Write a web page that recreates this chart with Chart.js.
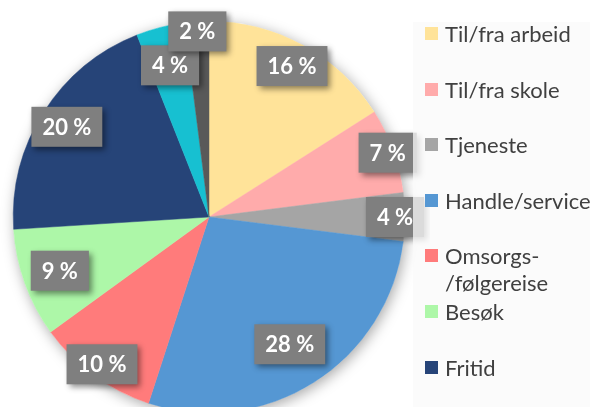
<!DOCTYPE html>
<html>
<head>
<meta charset="utf-8">
<script src="https://cdn.jsdelivr.net/npm/chart.js@4/dist/chart.umd.min.js"></script>
<style>
  html, body { margin: 0; padding: 0; }
  body { width: 590px; height: 407px; overflow: hidden; position: relative; background: #ffffff; font-family: Lato, "Open Sans", sans-serif; }
  #chartBox { position: absolute; left: 0; top: 0; width: 430px; height: 440px; }
  #legend { position: absolute; left: 413px; top: 22px; width: 177px; height: 400px; background: rgba(249,249,249,0.75); overflow: hidden; }
  .leg-item { position: absolute; left: 12px; width: 145px; font-family: Lato, sans-serif; font-size: 22px; line-height: 27px; color: #404040; padding-left: 20px; white-space: normal; }
  .leg-item .sw { position: absolute; left: 0; top: 7px; width: 13px; height: 13px; }
</style>
</head>
<body>
<div id="chartBox"><canvas id="pie"></canvas></div>
<div id="legend"></div>
<script>
// data
const categories = ['Til/fra arbeid', 'Til/fra skole', 'Tjeneste', 'Handle/service', 'Omsorgs-/følgereise', 'Besøk', 'Fritid', 'Annet', 'Ukjent'];
const shares = [16, 7, 4, 28, 10, 9, 20, 4, 2];
const sliceColors = ['#FFE399', '#FFABAB', '#A5A5A5', '#5597D3', '#FF7B7B', '#ADF7A8', '#264478', '#17C0D1', '#595959'];

// label placement (fraction of radius, along middle of slice)
const labelRadius = [0.88, 0.97, 0.95, 0.77, 0.93, 0.81, 0.86, 0.80, 0.95];

// soft shadow behind the whole pie
const pieShadow = {
  id: 'pieShadow',
  beforeDatasetsDraw(chart) {
    const arc = chart.getDatasetMeta(0).data[0];
    if (!arc) return;
    const { x, y, outerRadius } = arc.getProps(['x', 'y', 'outerRadius'], true);
    const ctx = chart.ctx;
    ctx.save();
    ctx.shadowColor = 'rgba(0,0,0,0.35)';
    ctx.shadowBlur = 14;
    ctx.shadowOffsetX = 2;
    ctx.shadowOffsetY = 3;
    ctx.fillStyle = '#ffffff';
    ctx.beginPath();
    ctx.arc(x, y, outerRadius, 0, Math.PI * 2);
    ctx.fill();
    ctx.restore();
  }
};

// grey boxed percentage labels
const boxLabels = {
  id: 'boxLabels',
  afterDatasetsDraw(chart) {
    const ctx = chart.ctx;
    const meta = chart.getDatasetMeta(0);
    ctx.save();
    ctx.font = 'bold 22px Lato, "Open Sans", sans-serif';
    ctx.textAlign = 'center';
    ctx.textBaseline = 'middle';
    meta.data.forEach((el, i) => {
      const p = el.getProps(['x', 'y', 'startAngle', 'endAngle', 'outerRadius'], true);
      const mid = (p.startAngle + p.endAngle) / 2;
      const r = p.outerRadius * labelRadius[i];
      const cx = p.x + Math.cos(mid) * r;
      const cy = p.y + Math.sin(mid) * r;
      const txt = shares[i] + ' %';
      const w = ctx.measureText(txt).width + 22;
      const h = 40;
      ctx.save();
      ctx.shadowColor = 'rgba(0,0,0,0.45)';
      ctx.shadowBlur = 6;
      ctx.shadowOffsetX = 3;
      ctx.shadowOffsetY = 3;
      ctx.fillStyle = '#7F7F7F';
      ctx.fillRect(cx - w / 2, cy - h / 2, w, h);
      ctx.restore();
      ctx.fillStyle = '#ffffff';
      ctx.fillText(txt, cx, cy + 1);
    });
    ctx.restore();
  }
};

new Chart(document.getElementById('pie'), {
  type: 'pie',
  data: {
    labels: categories,
    datasets: [{
      data: shares,
      backgroundColor: sliceColors,
      borderColor: sliceColors,
      borderWidth: 0.5,
      hoverOffset: 0
    }]
  },
  options: {
    responsive: true,
    maintainAspectRatio: false,
    animation: false,
    layout: { padding: { left: 13, top: 21, right: 25, bottom: 27 } },
    plugins: {
      legend: { display: false },
      tooltip: { enabled: false }
    }
  },
  plugins: [pieShadow, boxLabels]
});

// legend built from the same arrays (allow a line break after a hyphen)
const legend = document.getElementById('legend');
categories.forEach((name, i) => {
  const item = document.createElement('div');
  item.className = 'leg-item';
  item.style.top = (i * 55.6 - 2) + 'px';
  const sw = document.createElement('span');
  sw.className = 'sw';
  sw.style.background = sliceColors[i];
  item.appendChild(sw);
  item.appendChild(document.createTextNode(name.replace('-', '-\u200B')));
  legend.appendChild(item);
});
</script>
</body>
</html>
